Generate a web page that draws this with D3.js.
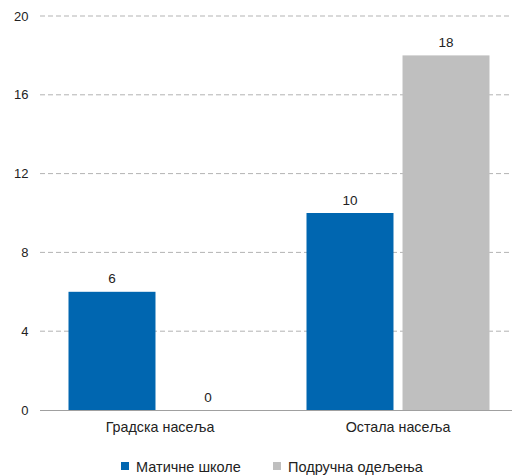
<!DOCTYPE html>
<html><head><meta charset="utf-8">
<script src="https://cdn.jsdelivr.net/npm/d3@7"></script>
<style>body{margin:0;background:#fff}svg{display:block;font-family:"Liberation Sans",Arial,sans-serif}</style>
</head><body><svg id="c" width="512" height="475"></svg>
<script>
const categories = ["Градска насеља", "Остала насеља"];
const seriesNames = ["Матичне школе", "Подручна одељења"];
const maticne = [6, 10];
const podrucna = [0, 18];
const yTicks = [0, 4, 8, 12, 16, 20];
const colors = ["#0066b0", "#bfbfbf"];

const svg = d3.select("#c");
const x0 = d3.scaleBand().domain(categories).range([41, 517]).paddingInner(0).paddingOuter(0);
const x1 = d3.scaleBand().domain(seriesNames).range([27.5, 238 - 27.5]).paddingInner(0.094);
const y = d3.scaleLinear().domain([0, 20]).range([410, 16]);

// gridlines
svg.append("g").selectAll("line").data(yTicks.filter(d => d > 0)).join("line")
  .attr("x1", 40).attr("x2", 512).attr("y1", d => y(d)).attr("y2", d => y(d))
  .attr("stroke", "#b3b3b3").attr("stroke-width", 1).attr("stroke-dasharray", "5,3");

// y labels
svg.append("g").selectAll("text").data(yTicks).join("text")
  .attr("x", 28.5).attr("y", d => y(d) + 4.5).attr("text-anchor", "end")
  .attr("font-size", 13).attr("fill", "#222").text(d => d);

const data = categories.map((c, i) => ({c, vals: [maticne[i], podrucna[i]]}));
const g = svg.append("g").selectAll("g").data(data).join("g")
  .attr("transform", d => `translate(${x0(d.c)},0)`);
g.selectAll("rect").data(d => d.vals.map((v, j) => ({v, s: seriesNames[j], j}))).join("rect")
  .attr("x", d => x1(d.s)).attr("width", x1.bandwidth())
  .attr("y", d => y(d.v)).attr("height", d => y(0) - y(d.v))
  .attr("fill", d => colors[d.j]);
g.selectAll("text").data(d => d.vals.map((v, j) => ({v, s: seriesNames[j], j}))).join("text")
  .attr("x", d => x1(d.s) + x1.bandwidth() / 2).attr("y", d => y(d.v) - 8.5)
  .attr("text-anchor", "middle").attr("font-size", 13.5).attr("fill", "#222").text(d => d.v);

// x axis line
svg.append("line").attr("x1", 40).attr("x2", 512).attr("y1", 410.5).attr("y2", 410.5)
  .attr("stroke", "#a0a0a0").attr("stroke-width", 1);

// category labels
svg.append("g").selectAll("text").data(categories).join("text")
  .attr("x", d => x0(d) + x0.bandwidth() / 2).attr("y", 432)
  .attr("text-anchor", "middle").attr("font-size", 14.3).attr("fill", "#222").text(d => d);

// legend
const legX = [121, 273];
const leg = svg.append("g").selectAll("g").data(seriesNames).join("g")
  .attr("transform", (d, i) => `translate(${legX[i]},462)`);
leg.append("rect").attr("width", 8).attr("height", 8).attr("fill", (d, i) => colors[i]);
leg.append("text").attr("x", 15).attr("y", 9.5)
  .attr("font-size", 14.5).attr("fill", "#222").text(d => d);
</script></body></html>
